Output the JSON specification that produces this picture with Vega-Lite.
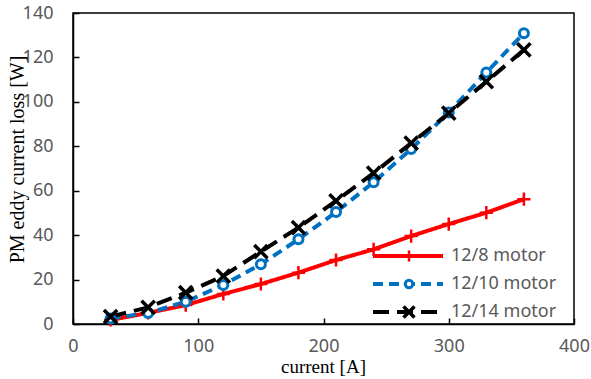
{
  "$schema": "https://vega.github.io/schema/vega-lite/v6.json",
  "width": 501,
  "height": 311,
  "autosize": "none",
  "padding": {"left": 73, "top": 13, "right": 17, "bottom": 55},
  "background": "white",
  "config": {
    "view": {"stroke": "black", "strokeWidth": 1.5},
    "axis": {
      "domainColor": "black",
      "domainWidth": 1.5,
      "tickColor": "black",
      "tickWidth": 1.5,
      "tickSize": -6,
      "grid": false,
      "labelFlush": false,
      "labelOverlap": false,
      "labelFont": "Noto Sans",
      "labelFontSize": 18,
      "labelColor": "#595959",
      "titleFont": "Liberation Serif",
      "titleFontSize": 20,
      "titleFontWeight": "normal",
      "titleColor": "black"
    },
    "legend": {
      "labelFont": "Noto Sans",
      "labelFontSize": 18,
      "labelColor": "#595959"
    }
  },
  "data": {
    "values": [
      {"current": 30, "loss": 1.8, "motor": "12/8 motor"},
      {"current": 60, "loss": 5, "motor": "12/8 motor"},
      {"current": 90, "loss": 8.5, "motor": "12/8 motor"},
      {"current": 120, "loss": 13.5, "motor": "12/8 motor"},
      {"current": 150, "loss": 18, "motor": "12/8 motor"},
      {"current": 180, "loss": 23.1, "motor": "12/8 motor"},
      {"current": 210, "loss": 28.8, "motor": "12/8 motor"},
      {"current": 240, "loss": 33.6, "motor": "12/8 motor"},
      {"current": 270, "loss": 39.6, "motor": "12/8 motor"},
      {"current": 300, "loss": 45, "motor": "12/8 motor"},
      {"current": 330, "loss": 50.1, "motor": "12/8 motor"},
      {"current": 360, "loss": 56.2, "motor": "12/8 motor"},
      {"current": 30, "loss": 2.5, "motor": "12/10 motor"},
      {"current": 60, "loss": 5, "motor": "12/10 motor"},
      {"current": 90, "loss": 10, "motor": "12/10 motor"},
      {"current": 120, "loss": 17.6, "motor": "12/10 motor"},
      {"current": 150, "loss": 26.9, "motor": "12/10 motor"},
      {"current": 180, "loss": 38.1, "motor": "12/10 motor"},
      {"current": 210, "loss": 50.4, "motor": "12/10 motor"},
      {"current": 240, "loss": 63.8, "motor": "12/10 motor"},
      {"current": 270, "loss": 78.8, "motor": "12/10 motor"},
      {"current": 300, "loss": 95.2, "motor": "12/10 motor"},
      {"current": 330, "loss": 113.2, "motor": "12/10 motor"},
      {"current": 360, "loss": 130.9, "motor": "12/10 motor"},
      {"current": 30, "loss": 3.3, "motor": "12/14 motor"},
      {"current": 60, "loss": 7.5, "motor": "12/14 motor"},
      {"current": 90, "loss": 14.1, "motor": "12/14 motor"},
      {"current": 120, "loss": 21.6, "motor": "12/14 motor"},
      {"current": 150, "loss": 32.6, "motor": "12/14 motor"},
      {"current": 180, "loss": 43.4, "motor": "12/14 motor"},
      {"current": 210, "loss": 55.4, "motor": "12/14 motor"},
      {"current": 240, "loss": 67.9, "motor": "12/14 motor"},
      {"current": 270, "loss": 81.4, "motor": "12/14 motor"},
      {"current": 300, "loss": 94.9, "motor": "12/14 motor"},
      {"current": 330, "loss": 109.1, "motor": "12/14 motor"},
      {"current": 360, "loss": 123.4, "motor": "12/14 motor"}
    ]
  },
  "encoding": {
    "x": {
      "field": "current",
      "type": "quantitative",
      "scale": {"domain": [0, 400], "nice": false, "zero": false},
      "axis": {
        "values": [0, 100, 200, 300, 400],
        "title": "current [A]",
        "labelPadding": 19,
        "titleFontSize": 19,
        "titleX": 250,
        "titleY": 48,
        "titleBaseline": "alphabetic",
        "titleAnchor": "middle"
      }
    },
    "y": {
      "field": "loss",
      "type": "quantitative",
      "scale": {"domain": [0, 140], "nice": false},
      "axis": {
        "values": [0, 20, 40, 60, 80, 100, 120, 140],
        "title": "PM eddy current loss [W]",
        "labelPadding": 26,
        "titleX": -56,
        "titleY": 146,
        "titleAngle": -90,
        "titleBaseline": "middle",
        "titleAlign": "center"
      }
    }
  },
  "layer": [
    {
      "mark": {"type": "line", "strokeWidth": 4},
      "encoding": {
        "color": {
          "field": "motor",
          "type": "nominal",
          "scale": {"domain": ["12/8 motor", "12/10 motor", "12/14 motor"], "range": ["#FF0000", "#0070C0", "#000000"]},
          "legend": {
            "title": null,
            "orient": "none",
            "legendX": 298,
            "legendY": 229,
            "symbolType": "stroke",
            "symbolSize": 4900,
            "symbolStrokeWidth": 4,
            "clipHeight": 28,
            "rowPadding": 0,
            "labelOffset": 6
          }
        },
        "strokeDash": {
          "field": "motor",
          "type": "nominal",
          "scale": {"domain": ["12/8 motor", "12/10 motor", "12/14 motor"], "range": [[1, 0], [10, 6], [16, 8]]},
          "legend": {
            "title": null,
            "orient": "none",
            "legendX": 298,
            "legendY": 229,
            "symbolType": "stroke",
            "symbolSize": 4900,
            "symbolStrokeWidth": 4,
            "clipHeight": 28,
            "rowPadding": 0,
            "labelOffset": 6
          }
        }
      }
    },
    {
      "mark": {"type": "point", "filled": true, "fill": "white", "size": 144, "opacity": 1},
      "encoding": {
        "stroke": {
          "field": "motor",
          "type": "nominal",
          "scale": {"domain": ["12/14 motor", "12/10 motor", "12/8 motor"], "range": ["#000000", "#0070C0", "#FF0000"]},
          "legend": {
            "title": null,
            "orient": "none",
            "legendX": 327,
            "legendY": 229,
            "values": ["12/8 motor", "12/10 motor", "12/14 motor"],
            "clipHeight": 28,
            "rowPadding": 0,
            "labelExpr": "''"
          }
        },
        "shape": {
          "field": "motor",
          "type": "nominal",
          "scale": {
            "domain": ["12/14 motor", "12/10 motor", "12/8 motor"],
            "range": ["M-1.1,-1.1L1.1,1.1M-1.1,1.1L1.1,-1.1", "M0.75,0A0.75,0.75,0,1,1,-0.75,0A0.75,0.75,0,1,1,0.75,0Z", "M-1.1,0H1.1M0,-1.1V1.1"]
          },
          "legend": {
            "title": null,
            "orient": "none",
            "legendX": 327,
            "legendY": 229,
            "values": ["12/8 motor", "12/10 motor", "12/14 motor"],
            "clipHeight": 28,
            "rowPadding": 0,
            "labelExpr": "''"
          }
        },
        "strokeWidth": {
          "field": "motor",
          "type": "nominal",
          "scale": {"domain": ["12/14 motor", "12/10 motor", "12/8 motor"], "range": [3.5, 2.5, 1]},
          "legend": {
            "title": null,
            "orient": "none",
            "legendX": 327,
            "legendY": 229,
            "values": ["12/8 motor", "12/10 motor", "12/14 motor"],
            "clipHeight": 28,
            "rowPadding": 0,
            "labelExpr": "''"
          }
        }
      }
    }
  ]
}
